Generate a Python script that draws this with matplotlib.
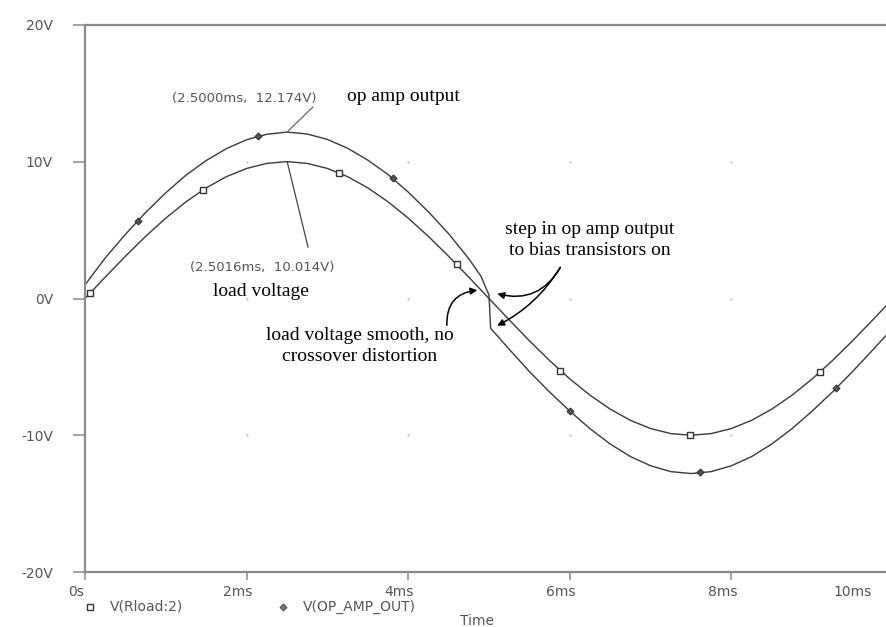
import matplotlib
matplotlib.use("Agg")
import matplotlib.pyplot as plt
from matplotlib.lines import Line2D
from matplotlib.transforms import ScaledTranslation

# transient run, time in ms
T_MS = [0.0, 0.25, 0.5, 0.75, 1.0, 1.25, 1.5, 1.75, 2.0, 2.25, 2.5, 2.75,
        3.0, 3.25, 3.5, 3.75, 4.0, 4.25, 4.5, 4.75, 5.0, 5.25, 5.5, 5.75,
        6.0, 6.25, 6.5, 6.75, 7.0, 7.25, 7.5, 7.75, 8.0, 8.25, 8.5, 8.75,
        9.0, 9.25, 9.5, 9.75, 10.0]
V_LOAD = [0.0, 1.56, 3.09, 4.54, 5.88, 7.07, 8.09, 8.91, 9.51, 9.88, 10.01, 9.88,
          9.51, 8.91, 8.09, 7.07, 5.88, 4.54, 3.09, 1.56, 0.0, -1.56, -3.09, -4.54,
          -5.88, -7.07, -8.09, -8.91, -9.51, -9.88, -10.0, -9.88, -9.51, -8.91, -8.09, -7.07,
          -5.88, -4.54, -3.09, -1.56, 0.0]

# op amp output has the step at the zero crossing (two samples at ~5 ms)
T_OPAMP = [0.0, 0.25, 0.5, 0.75, 1.0, 1.25, 1.5, 1.75, 2.0, 2.25, 2.5, 2.75,
           3.0, 3.25, 3.5, 3.75, 4.0, 4.25, 4.5, 4.75, 4.9, 5.0, 5.02, 5.25, 5.5, 5.75,
           6.0, 6.25, 6.5, 6.75, 7.0, 7.25, 7.5, 7.75, 8.0, 8.25, 8.5, 8.75,
           9.0, 9.25, 9.5, 9.75, 10.0]
V_OPAMP = [1.0, 2.96, 4.69, 6.29, 7.73, 9.02, 10.09, 10.96, 11.61, 12.01, 12.17, 12.03,
           11.63, 10.99, 10.12, 9.07, 7.78, 6.34, 4.74, 2.91, 1.63, 0.25, -2.18, -3.71, -5.34, -6.84,
           -8.23, -9.52, -10.64, -11.56, -12.23, -12.66, -12.8, -12.66, -12.23, -11.56, -10.64, -9.52,
           -8.23, -6.84, -5.34, -3.76, -2.15]

# trace symbols
LOAD_MARK_T = [0.06, 1.46, 3.14, 4.6, 5.88, 7.49, 9.1]
LOAD_MARK_V = [0.4, 7.9, 9.2, 2.5, -5.3, -10.0, -5.4]
OPAMP_MARK_T = [0.66, 2.14, 3.81, 6.0, 7.61, 9.3]
OPAMP_MARK_V = [5.7, 11.9, 8.8, -8.2, -12.7, -6.55]

X_TICKS = [0, 2, 4, 6, 8, 10]
X_LABELS = ["0s", "2ms", "4ms", "6ms", "8ms", "10ms"]
Y_TICKS = [-20, -10, 0, 10, 20]
Y_LABELS = ["-20V", "-10V", "0V", "10V", "20V"]

AXIS_GRAY = "#8a8a8a"
TRACE = "#3a3a3a"
LABEL_GRAY = "#555555"
SERIF = "Liberation Serif"

fig = plt.figure(figsize=(8.86, 6.27), dpi=100)
fig.patch.set_facecolor("white")
# x range runs just past the right edge of the canvas
ax = fig.add_axes([85 / 886, 1 - 572 / 627, 808 / 886, 547 / 627])

ax.plot(T_MS, V_LOAD, color=TRACE, lw=1.0)
ax.plot(T_OPAMP, V_OPAMP, color=TRACE, lw=1.0)
ax.plot(LOAD_MARK_T, LOAD_MARK_V, ls="none", marker="s", ms=5,
        mfc="white", mec="#333333", mew=1.0)
ax.plot(OPAMP_MARK_T, OPAMP_MARK_V, ls="none", marker="D", ms=3.5,
        mfc="#555555", mec="#333333", mew=0.8)

# faint dots at the interior grid intersections
gx = [x for x in X_TICKS[1:-1] for y in Y_TICKS[1:-1]]
gy = [y for x in X_TICKS[1:-1] for y in Y_TICKS[1:-1]]
ax.scatter(gx, gy, s=3, color="#c8c8c8", zorder=0, lw=0)

ax.set_xlim(0, 10)
ax.set_ylim(-20, 20)
for side in ("left", "top", "bottom"):
    ax.spines[side].set_color(AXIS_GRAY)
    ax.spines[side].set_linewidth(1.6)
ax.spines["right"].set_visible(False)

ax.set_xticks(X_TICKS, X_LABELS)
ax.set_yticks(Y_TICKS, Y_LABELS)
ax.tick_params(axis="x", direction="out", length=6, width=1.1, color=AXIS_GRAY,
               pad=3, labelsize=10, labelcolor=LABEL_GRAY)
ax.tick_params(axis="y", direction="out", length=9, width=1.1, color=AXIS_GRAY,
               pad=14, labelsize=10, labelcolor=LABEL_GRAY)
shift = ScaledTranslation(-9 / 100, 0, fig.dpi_scale_trans)
for lab in ax.get_xticklabels():
    lab.set_transform(lab.get_transform() + shift)
last = ax.get_xticklabels()[-1]
last.set_ha("right")
last.set_transform(last.get_transform() + ScaledTranslation(-12 / 100, 0, fig.dpi_scale_trans))

# cursor read-outs with leader lines
ax.text(1.077, 14.6, "(2.5000ms,  12.174V)", fontsize=9.5, color=LABEL_GRAY,
        ha="left", va="center")
ax.plot([2.82, 2.5], [14.0, 12.174], color="#666666", lw=0.9)
ax.text(1.30, 2.3, "(2.5016ms,  10.014V)", fontsize=9.5, color=LABEL_GRAY,
        ha="left", va="center")
ax.plot([2.5016, 2.76], [10.014, 3.77], color="#444444", lw=0.9)

ax.text(3.24, 14.8, "op amp output", family=SERIF, fontsize=14, ha="left", va="center")
ax.text(1.58, 0.48, "load voltage", family=SERIF, fontsize=14, ha="left", va="center")

ax.text(6.25, 4.3, "step in op amp output\nto bias transistors on", family=SERIF,
        fontsize=14, ha="center", va="center", linespacing=1.3)
arrow = dict(arrowstyle="-|>", color="black", lw=1.1, mutation_scale=10)
ax.annotate("", xy=(5.07, 0.4), xytext=(5.9, 2.45),
            arrowprops=dict(arrow, connectionstyle="arc3,rad=-0.4"))
ax.annotate("", xy=(5.07, -2.08), xytext=(5.9, 2.45),
            arrowprops=dict(arrow, connectionstyle="arc3,rad=-0.15"))

ax.text(3.40, -3.5, "load voltage smooth, no\ncrossover distortion", family=SERIF,
        fontsize=14, ha="center", va="center", linespacing=1.3)
ax.annotate("", xy=(4.89, 0.62), xytext=(4.48, -2.16),
            arrowprops=dict(arrow, connectionstyle="arc3,rad=-0.5"))

# trace legend and axis title under the plot
def fig_px(x, y):
    return x / 886, 1 - y / 627

fig.add_artist(Line2D([fig_px(90, 607)[0]], [fig_px(90, 607)[1]], marker="s", ms=5,
                      mfc="white", mec="#333333", mew=1.0, transform=fig.transFigure))
fig.text(*fig_px(110, 607), "V(Rload:2)", fontsize=10, color=LABEL_GRAY, va="center")
fig.add_artist(Line2D([fig_px(283, 607)[0]], [fig_px(283, 607)[1]], marker="D", ms=3.5,
                      mfc="#777777", mec="#555555", mew=0.8, transform=fig.transFigure))
fig.text(*fig_px(303, 607), "V(OP_AMP_OUT)", fontsize=10, color=LABEL_GRAY, va="center")
fig.text(*fig_px(477, 621), "Time", fontsize=10, color=LABEL_GRAY, ha="center", va="center")

fig.savefig("out.png", dpi=100)
